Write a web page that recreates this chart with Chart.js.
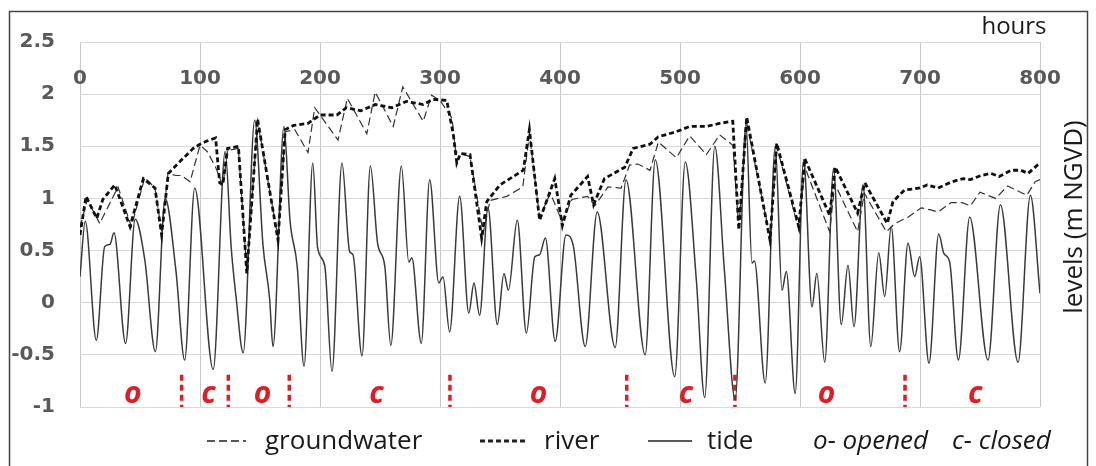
<!DOCTYPE html>
<html>
<head>
<meta charset="utf-8">
<script src="https://cdn.jsdelivr.net/npm/chart.js@4.4.1/dist/chart.umd.min.js"></script>
<style>
  html, body { margin: 0; padding: 0; background: #fff; }
  canvas { display: block; }
</style>
</head>
<body>
<canvas id="levelsChart" width="1096" height="466"></canvas>
<script>
// Datos (horas, nivel en m NGVD)
const tideHours = [0, 4.4, 13.6, 20.6, 25, 28.3, 38, 46, 54, 62.8, 71, 80, 87.2, 95.6, 111, 121, 126, 130, 136, 145.6,
  152.5, 158, 160.8, 170, 175, 181, 186.7, 194, 198, 204, 210, 218.3, 224.7, 227.5, 235, 242, 248, 254, 259, 267.8,
  274, 276.5, 284.4, 291.4, 299, 302.5, 308, 316.4, 324, 328.3, 333, 340, 347.8, 353.3, 357, 364.4, 372, 379, 383, 387.8,
  396, 405, 411, 421, 431, 446, 455, 471, 479.4, 495.6, 504.4, 513.6, 520.6, 529, 537, 546, 555, 560, 562, 571,
  579.4, 585, 588.6, 596, 603, 610, 614, 620.6, 628, 634.4, 640, 645, 652.5, 659, 665.6, 670.6, 676, 683, 690, 695.6,
  699.7, 707.5, 715.6, 720, 724.7, 732, 741.4, 756.7, 767, 781.7, 792, 800];
const tideLevels = [0.25, 0.78, -0.36, 0.54, 0.56, 0.67, -0.39, 0.80, 0.41, -0.47, 1.00, 0.30, -0.55, 1.10, -0.64, 1.45, 0.53, 0.06, -0.48, 1.75,
  0.55, 0.04, -0.42, 1.69, 0.79, 0.35, -0.61, 1.34, 0.53, 0.35, -0.66, 1.34, 0.49, 0.46, -0.51, 1.31, 0.57, 0.35, -0.41, 1.31,
  0.39, 0.43, -0.39, 1.18, 0.19, 0.25, -0.28, 1.02, -0.10, 0.19, -0.12, 0.91, -0.21, 0.28, 0.12, 0.79, -0.29, 0.44, 0.46, 0.62,
  -0.37, 0.65, 0.55, -0.42, 0.87, -0.43, 1.18, -0.50, 1.37, -0.71, 1.35, 0.22, -0.91, 1.50, 0.31, -0.93, 1.72, 0.38, 0.40, -0.77,
  1.50, 0.12, 0.30, -0.87, 1.37, -0.04, 0.28, -0.57, 1.29, -0.21, 0.36, -0.23, 1.13, -0.42, 0.48, 0.06, 0.73, -0.47, 0.57, 0.25,
  0.44, -0.58, 0.66, 0.47, 0.39, -0.55, 0.82, -0.55, 0.94, -0.57, 1.03, 0.09];

const riverHours = [0, 5, 14, 19, 29, 41.7, 52.8, 62.5, 68, 73.6, 84.7, 94.4, 100, 105.6, 113, 116.4, 119, 123, 132, 139,
  148, 165, 171, 178, 190, 200, 214, 222, 234, 246, 260, 272, 286, 294, 305.6, 311, 314, 317, 325, 334.7,
  339, 350, 369.4, 374.5, 383, 395.6, 402, 409, 423, 428, 437, 454, 461, 475, 481.7, 497, 508, 522, 533, 544,
  549, 555.6, 575, 580.6, 599, 604, 624.7, 629.4, 648, 654, 672.7, 677.5, 687, 700, 706, 715, 726.6, 736, 742, 751,
  759, 766, 776, 784, 790, 798, 800];
const riverLevels = [0.65, 1.02, 0.81, 0.99, 1.13, 0.73, 1.19, 1.10, 0.65, 1.24, 1.37, 1.48, 1.52, 1.55, 1.58, 1.15, 1.13, 1.48, 1.50, 0.28,
  1.76, 0.60, 1.66, 1.70, 1.72, 1.80, 1.80, 1.87, 1.84, 1.90, 1.87, 1.93, 1.90, 1.95, 1.94, 1.62, 1.34, 1.43, 1.42, 0.62,
  0.97, 1.13, 1.27, 1.66, 0.79, 1.19, 0.74, 1.03, 1.21, 0.94, 1.19, 1.30, 1.48, 1.52, 1.59, 1.64, 1.69, 1.69, 1.72, 1.74,
  0.70, 1.78, 0.60, 1.53, 0.73, 1.38, 0.84, 1.30, 0.86, 1.15, 0.76, 0.97, 1.08, 1.10, 1.13, 1.10, 1.16, 1.19, 1.18, 1.22,
  1.24, 1.21, 1.27, 1.27, 1.24, 1.32, 1.33];

const gwHours = [0, 6, 16.4, 31.7, 42.8, 54, 62.5, 68, 73.3, 80, 84.7, 91.7, 100, 106, 113, 119, 123, 132, 139, 148,
  165, 171, 179, 190, 195.6, 215, 222.8, 239, 246, 261, 269, 286, 293, 300, 310, 313, 325, 336, 341.7, 355.6,
  369, 374.5, 383, 392, 401.7, 410, 423, 429, 440, 451, 458, 465, 475, 482, 497, 508, 522, 533, 544, 549,
  555.6, 575, 580.6, 599, 604, 624.7, 629, 648, 653.6, 672, 679, 690, 701, 709, 715, 726, 735, 742, 750, 763,
  773, 789, 796, 800];
const gwLevels = [0.72, 0.99, 0.76, 1.11, 0.73, 1.20, 1.10, 0.68, 1.24, 1.22, 1.22, 1.16, 1.51, 1.45, 1.30, 1.12, 1.46, 1.48, 0.30, 1.74,
  0.62, 1.64, 1.66, 1.44, 1.87, 1.56, 1.96, 1.62, 2.02, 1.69, 2.07, 1.74, 1.99, 1.94, 1.77, 1.45, 1.40, 0.67, 0.98, 1.02,
  1.11, 1.62, 0.82, 1.05, 0.78, 0.99, 1.02, 0.93, 1.11, 1.10, 1.32, 1.33, 1.27, 1.54, 1.39, 1.60, 1.42, 1.61, 1.51, 0.72,
  1.72, 0.63, 1.50, 0.70, 1.30, 0.68, 1.14, 0.68, 1.05, 0.68, 0.76, 0.82, 0.91, 0.89, 0.87, 0.96, 0.96, 0.93, 1.06, 1.00,
  1.12, 1.03, 1.16, 1.18];

// Cambios de estado de la compuerta y etiquetas o/c
const gateHours = [84.7, 123.6, 174.4, 308.3, 455.6, 545.8, 687.5];
const gateLabelHours = [44, 107, 152, 247, 382, 505, 622, 746];
const gateLabels = ['o', 'c', 'o', 'c', 'o', 'c', 'o', 'c'];

const xTickLabels = [0, 100, 200, 300, 400, 500, 600, 700, 800];

const toPoints = (xs, ys) => xs.map((x, i) => ({ x: x, y: ys[i] }));

// Segmentos verticales rojos (con huecos entre ellos)
const gatePoints = [];
gateHours.forEach(h => {
    gatePoints.push({ x: h, y: -0.69 }, { x: h, y: -1.0 }, { x: h, y: null });
});

const tickFont = 'bold 20px "DejaVu Sans"';
const tickColor = '#595959';

// Textos, leyenda y marco dibujados sobre el gráfico
const annotationsPlugin = {
    id: 'annotations',
    afterDraw(chart) {
        const ctx = chart.ctx;
        const xs = chart.scales.x;
        const ys = chart.scales.y;
        ctx.save();

        // Etiquetas del eje horizontal (dentro del área, arriba)
        ctx.font = tickFont;
        ctx.fillStyle = tickColor;
        ctx.textAlign = 'center';
        ctx.textBaseline = 'middle';
        const labelY = ys.getPixelForValue(2.5) + 37;
        xTickLabels.forEach(v => ctx.fillText(String(v), xs.getPixelForValue(v), labelY));

        // Letras o / c
        ctx.font = 'bold italic 30px "Open Sans"';
        ctx.fillStyle = '#e31b23';
        gateLabelHours.forEach((h, i) => {
            ctx.fillText(gateLabels[i], xs.getPixelForValue(h), ys.getPixelForValue(-0.88));
        });

        // "hours"
        ctx.font = '24px "Open Sans"';
        ctx.fillStyle = '#1a1a1a';
        ctx.fillText('hours', 1014, 27);

        // Título vertical
        ctx.save();
        ctx.font = '26px "Open Sans"';
        ctx.translate(1075, 217);
        ctx.rotate(-Math.PI / 2);
        ctx.fillText('levels (m NGVD)', 0, 0);
        ctx.restore();

        // Leyenda
        const ly = 441;
        ctx.strokeStyle = '#222';
        ctx.lineWidth = 1.3;
        ctx.setLineDash([8, 4]);
        ctx.beginPath(); ctx.moveTo(207, ly); ctx.lineTo(246, ly); ctx.stroke();
        ctx.lineWidth = 2.8;
        ctx.setLineDash([5, 3]);
        ctx.beginPath(); ctx.moveTo(480, ly); ctx.lineTo(527, ly); ctx.stroke();
        ctx.lineWidth = 1.5;
        ctx.setLineDash([]);
        ctx.beginPath(); ctx.moveTo(648, ly); ctx.lineTo(692, ly); ctx.stroke();

        ctx.font = '26px "Open Sans"';
        ctx.textAlign = 'left';
        ctx.textBaseline = 'alphabetic';
        ctx.fillText('groundwater', 265, 449);
        ctx.fillText('river', 544, 449);
        ctx.fillText('tide', 707, 449);
        ctx.font = 'italic 26px "Open Sans"';
        ctx.fillText('o- opened', 813, 449);
        ctx.fillText('c- closed', 952, 449);

        // Marco exterior
        ctx.strokeStyle = '#444';
        ctx.lineWidth = 1.5;
        ctx.strokeRect(9.5, 11.5, 1078, 470);

        ctx.restore();
    }
};

const levelsChart = new Chart(document.getElementById('levelsChart'), {
    type: 'line',
    data: {
        datasets: [
            {
                label: 'river',
                data: toPoints(riverHours, riverLevels),
                borderColor: '#111',
                borderWidth: 2.8,
                borderDash: [5, 3],
                pointRadius: 0,
                tension: 0
            },
            {
                label: 'groundwater',
                data: toPoints(gwHours, gwLevels),
                borderColor: '#333',
                borderWidth: 1.2,
                borderDash: [8, 4],
                pointRadius: 0,
                tension: 0
            },
            {
                label: 'tide',
                data: toPoints(tideHours, tideLevels),
                borderColor: '#3a3a3a',
                borderWidth: 1.5,
                pointRadius: 0,
                cubicInterpolationMode: 'monotone'
            },
            {
                label: 'gate',
                data: gatePoints,
                borderColor: '#e31b23',
                borderWidth: 3.5,
                borderDash: [6, 4],
                pointRadius: 0,
                spanGaps: false
            }
        ]
    },
    options: {
        responsive: false,
        animation: false,
        layout: {
            padding: { left: 0, right: 56, top: 42, bottom: 59 }
        },
        plugins: {
            legend: { display: false },
            tooltip: { enabled: false }
        },
        scales: {
            x: {
                type: 'linear',
                min: 0,
                max: 800,
                ticks: { stepSize: 100, display: false },
                grid: { color: '#c8c8c8', drawTicks: false },
                border: { display: false },
                afterFit: function(scale) { scale.height = 0; }
            },
            y: {
                min: -1,
                max: 2.5,
                ticks: {
                    stepSize: 0.5,
                    padding: 25,
                    color: tickColor,
                    font: { family: 'DejaVu Sans', size: 20, weight: 'bold' },
                    callback: function(value) { return String(value); }
                },
                grid: { color: '#d9d9d9', drawTicks: false },
                border: { display: false },
                afterFit: function(scale) { scale.width = 80; }
            }
        }
    },
    plugins: [annotationsPlugin]
});
</script>
</body>
</html>
